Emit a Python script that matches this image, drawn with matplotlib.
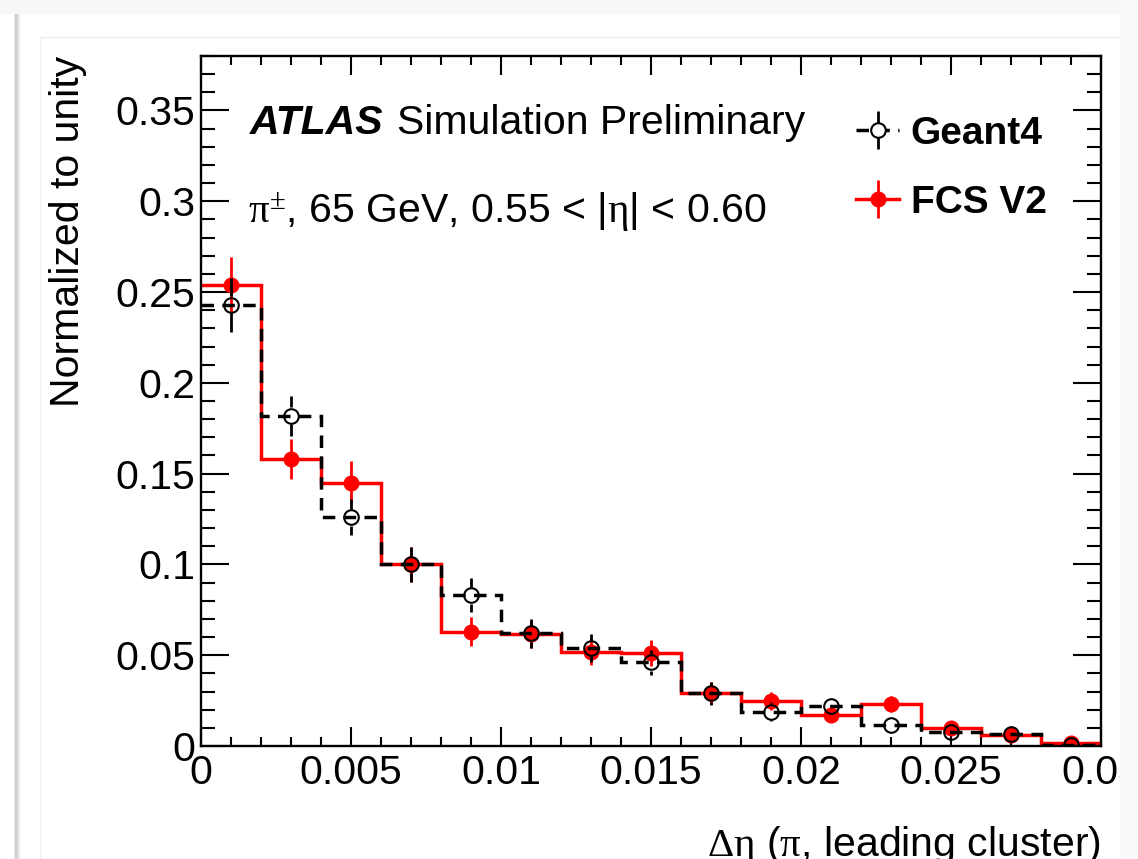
import matplotlib
matplotlib.use("Agg")
import matplotlib.pyplot as plt
from matplotlib.patches import Rectangle
from matplotlib.lines import Line2D
from matplotlib.legend_handler import HandlerTuple
from matplotlib.ticker import MultipleLocator, FormatStrFormatter
import numpy as np

# ---- data -------------------------------------------------------------
bin_edges = [0.000, 0.002, 0.004, 0.006, 0.008, 0.010, 0.012, 0.014,
             0.016, 0.018, 0.020, 0.022, 0.024, 0.026, 0.028, 0.030]

geant4 = [0.243, 0.182, 0.126, 0.100, 0.083, 0.062, 0.054, 0.046,
          0.029, 0.019, 0.022, 0.0117, 0.0077, 0.0068, 0.0004]
geant4_err = [0.015, 0.011, 0.0099, 0.0096, 0.0093, 0.0080, 0.0077, 0.0068,
              0.0064, 0.0050, 0.0045, 0.0036, 0.0030, 0.0030, 0.0010]

fcs_v2 = [0.254, 0.158, 0.145, 0.100, 0.063, 0.0615, 0.052, 0.051,
          0.029, 0.025, 0.0173, 0.0231, 0.0098, 0.0060, 0.0018]
fcs_v2_err = [0.0155, 0.011, 0.0118, 0.0096, 0.0079, 0.0078, 0.0075, 0.0072,
              0.0060, 0.0050, 0.0042, 0.0046, 0.0030, 0.0025, 0.0015]

series_labels = ["Geant4", "FCS V2"]

# ---- style ------------------------------------------------------------
plt.rcParams["font.family"] = ["Liberation Sans", "DejaVu Sans"]
plt.rcParams["mathtext.fontset"] = "custom"
plt.rcParams["mathtext.rm"] = "Liberation Serif"
plt.rcParams["mathtext.it"] = "Liberation Serif:italic"
plt.rcParams["mathtext.bf"] = "Liberation Serif:bold"

FS = 29.5
RED = "#ff0000"
DASH = (0, (3.6, 2.4))
MS = 10.5

W, H = 1138, 859
fig = plt.figure(figsize=(W / 100, H / 100), dpi=100)
fig.patch.set_facecolor("white")


def fr(x0, y0, w, h):
    """pixel box (top-left origin) -> figure fraction box"""
    return (x0 / W, 1 - (y0 + h) / H, w / W, h / H)


# slide backdrop around the canvas
bx = fr(0, 0, W, 14)
fig.add_artist(Rectangle(bx[:2], bx[2], bx[3], transform=fig.transFigure,
                         facecolor="#f8f8f8", edgecolor="none", zorder=-5))
shades = ["#e2e2e2", "#d4d4d4", "#cfcfcf", "#d8d8d8", "#e6e6e6", "#f0f0f0", "#f7f7f7"]
for i, c in enumerate(shades):
    b = fr(14 + i, 14, 1, H - 14)
    fig.add_artist(Rectangle(b[:2], b[2], b[3], transform=fig.transFigure,
                             facecolor=c, edgecolor="none", zorder=-5))
b = fr(40, 37, 1080, H - 37)
fig.add_artist(Rectangle(b[:2], b[2], b[3], transform=fig.transFigure,
                         facecolor="none", edgecolor="#efefef", lw=1.0, zorder=-4))

ax = fig.add_axes([201 / W, (H - 746) / H, 900 / W, 690 / H])

edges = np.asarray(bin_edges)
centers = 0.5 * (edges[:-1] + edges[1:])

ax.set_xlim(0, 0.03)
ax.set_ylim(0, 0.38)

# FCS V2 histogram
ax.stairs(fcs_v2, edges, color=RED, lw=2.5, baseline=None, zorder=3)
ax.errorbar(centers, fcs_v2, yerr=fcs_v2_err, fmt="o", color=RED, ms=MS,
            elinewidth=2.0, capsize=0, zorder=4)

# Geant4 histogram, error bars stop at the open marker edge
ax.stairs(geant4, edges, color="black", lw=2.5, linestyle=DASH,
          baseline=None, zorder=5)
r_px = (MS / 2 + 0.75) * fig.dpi / 72
p0 = ax.transData.transform((0, 0))
p1 = ax.transData.inverted().transform((p0[0], p0[1] + r_px))
r_data = p1[1]
g = np.asarray(geant4)
ge = np.asarray(geant4_err)
keep = ge > r_data
ax.vlines(centers[keep], (g - ge)[keep], (g - r_data)[keep], color="black", lw=2.0, zorder=6)
ax.vlines(centers[keep], (g + r_data)[keep], (g + ge)[keep], color="black", lw=2.0, zorder=6)
ax.plot(centers, geant4, "o", ms=MS, mfc="none", mec="black", mew=1.5, zorder=7)

# axes cosmetics
for s in ax.spines.values():
    s.set_linewidth(1.7)
    s.set_zorder(10)
ax.xaxis.set_major_locator(MultipleLocator(0.005))
ax.xaxis.set_minor_locator(MultipleLocator(0.001))
ax.yaxis.set_major_locator(MultipleLocator(0.05))
ax.yaxis.set_minor_locator(MultipleLocator(0.01))
ax.xaxis.set_major_formatter(FormatStrFormatter("%g"))
ax.yaxis.set_major_formatter(FormatStrFormatter("%g"))
ax.tick_params(which="both", direction="in", top=True, right=True, width=1.5,
               labelsize=FS)
ax.tick_params(axis="x", which="major", length=13.7, pad=6)
ax.tick_params(axis="x", which="minor", length=6.8)
ax.tick_params(axis="y", which="major", length=20, pad=4)
ax.tick_params(axis="y", which="minor", length=10)

# labels
ax.text(1.0, -0.159, r"$\mathrm{\Delta\eta}$ ($\mathrm{\pi}$, leading cluster)",
        transform=ax.transAxes, ha="right", va="baseline", fontsize=FS)
ax.text(-0.148, 1.0, "Normalized to unity", transform=ax.transAxes,
        rotation=90, ha="center", va="top", fontsize=FS)

ax.text(0.0544, 0.887, "ATLAS", transform=ax.transAxes, fontsize=FS,
        fontweight="bold", fontstyle="italic", va="baseline")
ax.text(0.218, 0.887, "Simulation Preliminary", transform=ax.transAxes,
        fontsize=FS, va="baseline")
ax.text(0.052, 0.759, r"$\mathrm{\pi}^{\pm}$, 65 GeV, 0.55 < |$\mathrm{\eta}$| < 0.60",
        transform=ax.transAxes, fontsize=FS, va="baseline")

# legend
g_h = (Line2D([], [], color="black", lw=2.5, linestyle=DASH),
       Line2D([], [], color="black", marker="|", ms=28, mew=2.0, linestyle="none"),
       Line2D([], [], color="black", marker="o", ms=MS, mfc="white", mec="black",
              mew=1.5, linestyle="none"))
f_h = (Line2D([], [], color=RED, lw=2.5),
       Line2D([], [], color=RED, marker="|", ms=28, mew=2.0, linestyle="none"),
       Line2D([], [], color=RED, marker="o", ms=MS, linestyle="none"))
leg = ax.legend([g_h, f_h], series_labels,
                handler_map={tuple: HandlerTuple(ndivide=1)},
                loc="upper left", bbox_to_anchor=(0.728, 0.913),
                frameon=False, handlelength=1.1, handletextpad=0.3,
                labelspacing=0.85, borderpad=0, borderaxespad=0,
                prop={"size": FS - 1.5, "weight": "bold"})

# right edge of the canvas
b = fr(1120, 0, W - 1120, H)
fig.add_artist(Rectangle(b[:2], b[2], b[3], transform=fig.transFigure,
                         facecolor="#fafafa", edgecolor="none", zorder=20))

fig.savefig("out.png", dpi=100)
